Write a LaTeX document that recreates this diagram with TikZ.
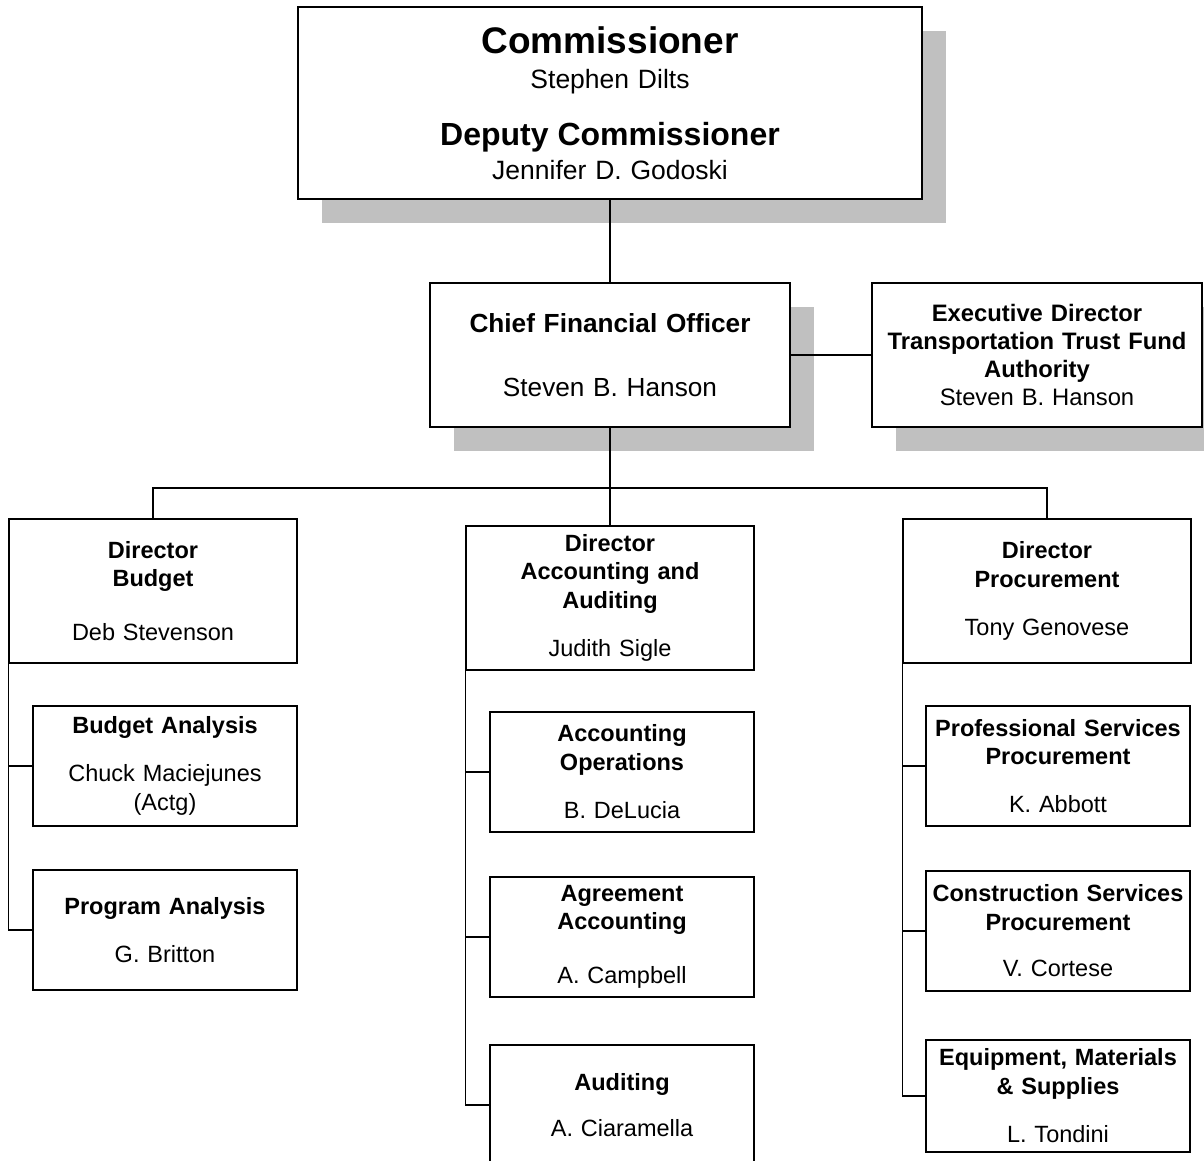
\documentclass[tikz,border=0pt]{standalone}
\usepackage{fontspec}
\setmainfont{Liberation Sans}
\usetikzlibrary{shadows}
\definecolor{shadowgray}{RGB}{192,192,192}
\tikzset{
    orgbox/.style={draw, fill=white, line width=1.4pt, inner sep=0pt, align=center},
    shadowed/.style={drop shadow={shadow xshift=24pt, shadow yshift=-24pt, fill=shadowgray, opacity=1}},
    dirbox/.style={orgbox, minimum width=288pt, text width=288pt, minimum height=144pt, font=\fontsize{23.5}{28.5}\selectfont},
    unitbox/.style={orgbox, minimum width=264pt, text width=264pt, minimum height=120pt, font=\fontsize{23.5}{28.5}\selectfont},
    link/.style={line width=1.4pt}
}

\begin{document}
\begin{tikzpicture}[x=1pt, y=-1pt]
        \useasboundingbox (0,0) rectangle (1204,1161);

        % top of the chart
        \node[orgbox, shadowed, minimum width=624pt, text width=624pt, minimum height=192pt, font=\fontsize{26.5}{34}\selectfont] (comm) at (610,103)
            {{\fontsize{37}{34}\selectfont\bfseries Commissioner}\\[1pt] Stephen Dilts\\[23pt]
             {\fontsize{32}{34}\selectfont\bfseries Deputy Commissioner}\\ Jennifer D. Godoski};
        \node[orgbox, shadowed, minimum width=360pt, text width=360pt, minimum height=144pt, font=\fontsize{26.2}{29}\selectfont] (cfo) at (610,355)
            {\textbf{Chief Financial Officer}\\[35pt] Steven B. Hanson};
        \node[orgbox, shadowed, minimum width=330pt, text width=330pt, minimum height=144pt, font=\fontsize{23.8}{28.3}\selectfont] (ttf) at (1037,355)
            {\textbf{Executive Director}\\ \textbf{Transportation Trust Fund}\\ \textbf{Authority}\\ Steven B. Hanson};

        % directors
        \def\y{591}
        \node[dirbox] (dbud) at (153,\y) {\textbf{Director}\\ \textbf{Budget}\\[25.5pt] Deb Stevenson};
        \node[dirbox] (dacc) at (610,\y+7) {\textbf{Director}\\ \textbf{Accounting and}\\ \textbf{Auditing}\\[20pt] Judith Sigle};
        \node[dirbox] (dproc) at (1047,\y) {\textbf{Director}\\ \textbf{Procurement}\\[20pt] Tony Genovese};

        % budget units
        \def\x{165}
        \node[unitbox] (budan) at (\x,766) {\textbf{Budget Analysis}\\[19.5pt] Chuck Maciejunes\\ (Actg)};
        \node[unitbox] (progan) at (\x,930) {\textbf{Program Analysis}\\[19.5pt] G. Britton};

        % accounting units
        \def\x{622}
        \node[unitbox] (accop) at (\x,772) {\textbf{Accounting}\\ \textbf{Operations}\\[20pt] B. DeLucia};
        \node[unitbox] (agracc) at (\x,937) {\textbf{Agreement}\\ \textbf{Accounting}\\[25.5pt] A. Campbell};
        \node[unitbox] (aud) at (\x,1105) {\textbf{Auditing}\\[18pt] A. Ciaramella};

        % procurement units
        \def\x{1058}
        \node[unitbox] (prof) at (\x,766) {\textbf{Professional Services}\\ \textbf{Procurement}\\[19.5pt] K. Abbott};
        \node[unitbox] (cons) at (\x,931) {\textbf{Construction Services}\\ \textbf{Procurement}\\[18pt] V. Cortese};
        \node[unitbox, minimum height=112pt] (equip) at (\x,1096) {\textbf{Equipment, Materials}\\ \textbf{\& Supplies}\\[20pt] L. Tondini};

        \coordinate (bus) at (610,488);
        \draw[link] (comm) -- (cfo);
        \draw[link] (cfo) -- (ttf);
        \draw[link] (cfo) -- (dacc);
        \draw[link] (dbud) |- (bus) -| (dproc);

        \draw[link] (dbud.south west) |- (progan);
        \draw[link] (dbud.south west |- budan) -- (budan);
        \draw[link] (dacc.south west) |- (aud);
        \draw[link] (dacc.south west |- accop) -- (accop);
        \draw[link] (dacc.south west |- agracc) -- (agracc);
        \draw[link] (dproc.south west) |- (equip);
        \draw[link] (dproc.south west |- prof) -- (prof);
        \draw[link] (dproc.south west |- cons) -- (cons);
\end{tikzpicture}
\end{document}
